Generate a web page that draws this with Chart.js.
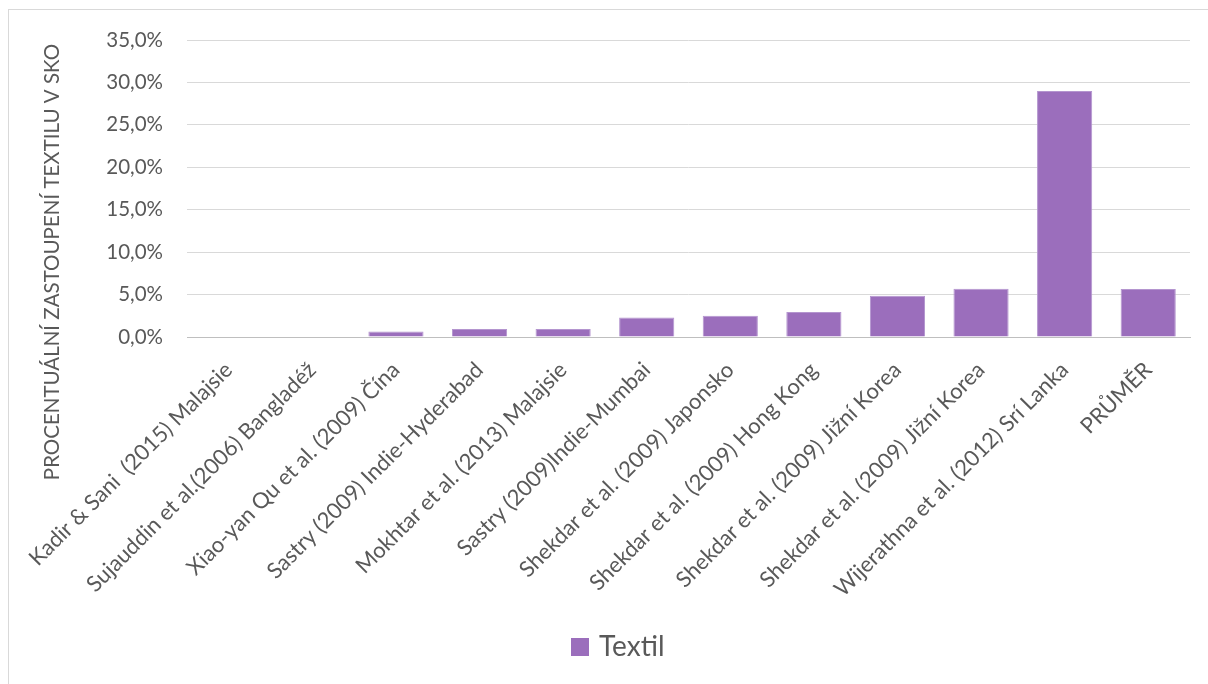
<!DOCTYPE html>
<html>
<head>
<meta charset="utf-8">
<script src="https://cdn.jsdelivr.net/npm/chart.js@4/dist/chart.umd.min.js"></script>
<style>
  html, body { margin: 0; padding: 0; background: #fff; }
  #wrap { width: 1208px; height: 684px; position: relative; }
</style>
</head>
<body>
<div id="wrap"><canvas id="textilChart" width="1208" height="684"></canvas></div>
<script>
// data
const categories = [
    'Kadir & Sani  (2015) Malajsie',
    'Sujauddin et al.(2006) Bangladéž',
    'Xiao-yan Qu et al. (2009) Čína',
    'Sastry (2009) Indie-Hyderabad',
    'Mokhtar et al. (2013) Malajsie',
    'Sastry (2009)Indie-Mumbai',
    'Shekdar et al. (2009) Japonsko',
    'Shekdar et al. (2009) Hong Kong',
    'Shekdar et al. (2009) Jižní Korea',
    'Shekdar et al. (2009) Jižní Korea',
    'Wijerathna et al. (2012) Srí Lanka',
    'PRŮMĚR'
];
const textilValues = [0, 0, 0.65, 0.95, 0.95, 2.3, 2.5, 2.95, 4.85, 5.7, 29.0, 5.65];
const yTicks = [0, 5, 10, 15, 20, 25, 30, 35];
const seriesName = 'Textil';
const yTitle = 'PROCENTUÁLNÍ ZASTOUPENÍ TEXTILU V SKO';

const barColor = '#9b6ebc';
const textColor = '#595959';
const gridColor = '#d9d9d9';
const fontFamily = 'Lato, "Open Sans", sans-serif';

// rámeček, popisek osy y a legenda
const decorPlugin = {
    id: 'decor',
    beforeDraw(chart) {
        const ctx = chart.ctx;
        ctx.save();
        ctx.fillStyle = '#fff';
        ctx.fillRect(0, 0, chart.width, chart.height);
        ctx.strokeStyle = '#d9d9d9';
        ctx.lineWidth = 1;
        ctx.strokeRect(8.5, 9.5, chart.width + 10, chart.height + 10);
        ctx.restore();
    },
    afterDraw(chart) {
        const ctx = chart.ctx;
        ctx.save();
        // y axis title
        ctx.translate(52, 262);
        ctx.rotate(-Math.PI / 2);
        ctx.fillStyle = textColor;
        ctx.font = '20.5px ' + fontFamily;
        ctx.textAlign = 'center';
        ctx.textBaseline = 'middle';
        ctx.fillText(yTitle, 0, 0);
        ctx.restore();

        // legend
        ctx.save();
        ctx.fillStyle = barColor;
        ctx.fillRect(571, 638, 18, 18);
        ctx.fillStyle = textColor;
        ctx.font = '28px ' + fontFamily;
        ctx.textAlign = 'left';
        ctx.textBaseline = 'middle';
        ctx.fillText(chart.data.datasets[0].label, 599, 647);
        ctx.restore();
    }
};

new Chart(document.getElementById('textilChart'), {
    type: 'bar',
    data: {
        labels: categories,
        datasets: [{
            label: seriesName,
            data: textilValues,
            backgroundColor: barColor,
            borderColor: '#b495cf',
            borderWidth: { top: 1, left: 1, right: 1, bottom: 0 },
            categoryPercentage: 1.0,
            barPercentage: 0.66
        }]
    },
    options: {
        responsive: false,
        animation: false,
        devicePixelRatio: 1,
        layout: { padding: { top: 40, right: 18, bottom: 0, left: 0 } },
        plugins: {
            legend: { display: false },
            tooltip: { enabled: false }
        },
        scales: {
            x: {
                grid: { display: false, drawTicks: false },
                border: { color: '#bfbfbf', width: 1 },
                ticks: {
                    color: textColor,
                    font: { family: fontFamily, size: 22 },
                    minRotation: 45,
                    maxRotation: 45,
                    autoSkip: false,
                    padding: 20
                },
                afterFit(scale) { scale.height = 347; }
            },
            y: {
                min: 0,
                max: 35,
                afterBuildTicks(scale) { scale.ticks = yTicks.map(v => ({ value: v })); },
                grid: { color: gridColor, drawTicks: false },
                border: { display: false },
                ticks: {
                    color: textColor,
                    font: { family: fontFamily, size: 20.5 },
                    padding: 24,
                    callback: v => v.toFixed(1).replace('.', ',') + '%'
                },
                afterFit(scale) { scale.width = 187; }
            }
        }
    },
    plugins: [decorPlugin]
});
</script>
</body>
</html>
